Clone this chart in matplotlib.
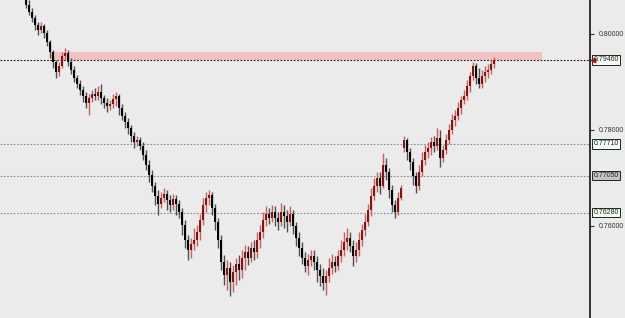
import numpy as np
import matplotlib
matplotlib.use("Agg")
import matplotlib.pyplot as plt
import matplotlib.transforms as mtransforms

# candle data (one bar per period)
opens = [0.8081, 0.8060, 0.8046, 0.8033, 0.8019, 0.8008, 0.8017, 0.8002, 0.7983, 0.7962,
         0.7942, 0.7921, 0.7933, 0.7954, 0.7960, 0.7942, 0.7925, 0.7908, 0.7896, 0.7883,
         0.7871, 0.7856, 0.7867, 0.7875, 0.7871, 0.7879, 0.7867, 0.7856, 0.7850, 0.7854,
         0.7865, 0.7871, 0.7846, 0.7829, 0.7817, 0.7804, 0.7787, 0.7775, 0.7779, 0.7767,
         0.7748, 0.7727, 0.7706, 0.7683, 0.7662, 0.7646, 0.7658, 0.7667, 0.7654, 0.7644,
         0.7656, 0.7646, 0.7629, 0.7602, 0.7571, 0.7550, 0.7562, 0.7571, 0.7587, 0.7612,
         0.7644, 0.7658, 0.7665, 0.7637, 0.7608, 0.7571, 0.7525, 0.7498, 0.7512, 0.7483,
         0.7504, 0.7521, 0.7508, 0.7533, 0.7546, 0.7533, 0.7554, 0.7546, 0.7571, 0.7587,
         0.7612, 0.7625, 0.7617, 0.7629, 0.7617, 0.7608, 0.7629, 0.7621, 0.7608, 0.7625,
         0.7600, 0.7575, 0.7554, 0.7533, 0.7517, 0.7529, 0.7537, 0.7525, 0.7508, 0.7496,
         0.7481, 0.7496, 0.7512, 0.7525, 0.7517, 0.7537, 0.7550, 0.7567, 0.7575, 0.7558,
         0.7537, 0.7550, 0.7571, 0.7592, 0.7608, 0.7633, 0.7662, 0.7683, 0.7700, 0.7683,
         0.7727, 0.7712, 0.7675, 0.7644, 0.7629, 0.7658, 0.7762, 0.7779, 0.7754, 0.7733,
         0.7704, 0.7683, 0.7712, 0.7737, 0.7754, 0.7762, 0.7775, 0.7767, 0.7783, 0.7742,
         0.7758, 0.7779, 0.7800, 0.7821, 0.7829, 0.7846, 0.7862, 0.7871, 0.7892, 0.7912,
         0.7933, 0.7908, 0.7896, 0.7912, 0.7921, 0.7925, 0.7937]
highs = [0.8092, 0.8071, 0.8054, 0.8040, 0.8025, 0.8025, 0.8021, 0.8008, 0.7987, 0.7967,
         0.7946, 0.7942, 0.7962, 0.7971, 0.7967, 0.7950, 0.7933, 0.7915, 0.7904, 0.7892,
         0.7879, 0.7875, 0.7883, 0.7887, 0.7892, 0.7896, 0.7873, 0.7867, 0.7862, 0.7875,
         0.7879, 0.7875, 0.7854, 0.7837, 0.7825, 0.7810, 0.7796, 0.7787, 0.7785, 0.7775,
         0.7758, 0.7737, 0.7717, 0.7692, 0.7675, 0.7671, 0.7679, 0.7675, 0.7665, 0.7667,
         0.7665, 0.7654, 0.7637, 0.7612, 0.7581, 0.7575, 0.7596, 0.7602, 0.7625, 0.7658,
         0.7671, 0.7675, 0.7671, 0.7646, 0.7617, 0.7581, 0.7540, 0.7529, 0.7525, 0.7519,
         0.7533, 0.7540, 0.7550, 0.7560, 0.7558, 0.7567, 0.7571, 0.7587, 0.7602, 0.7629,
         0.7642, 0.7637, 0.7644, 0.7642, 0.7629, 0.7648, 0.7644, 0.7633, 0.7642, 0.7633,
         0.7608, 0.7587, 0.7567, 0.7546, 0.7542, 0.7550, 0.7550, 0.7537, 0.7521, 0.7512,
         0.7508, 0.7533, 0.7542, 0.7537, 0.7550, 0.7571, 0.7587, 0.7596, 0.7587, 0.7571,
         0.7567, 0.7587, 0.7604, 0.7625, 0.7646, 0.7679, 0.7700, 0.7712, 0.7712, 0.7752,
         0.7742, 0.7721, 0.7685, 0.7654, 0.7671, 0.7685, 0.7787, 0.7783, 0.7762, 0.7742,
         0.7712, 0.7727, 0.7754, 0.7769, 0.7775, 0.7785, 0.7787, 0.7804, 0.7800, 0.7769,
         0.7792, 0.7812, 0.7833, 0.7842, 0.7858, 0.7871, 0.7883, 0.7904, 0.7921, 0.7942,
         0.7940, 0.7929, 0.7925, 0.7933, 0.7937, 0.7946, 0.7952]
lows = [0.8054, 0.8040, 0.8025, 0.8008, 0.7998, 0.8002, 0.7992, 0.7975, 0.7950, 0.7929,
        0.7908, 0.7912, 0.7929, 0.7946, 0.7933, 0.7917, 0.7900, 0.7887, 0.7873, 0.7858,
        0.7846, 0.7831, 0.7858, 0.7862, 0.7862, 0.7854, 0.7846, 0.7837, 0.7842, 0.7846,
        0.7850, 0.7831, 0.7821, 0.7804, 0.7792, 0.7775, 0.7762, 0.7767, 0.7758, 0.7737,
        0.7717, 0.7692, 0.7671, 0.7644, 0.7623, 0.7637, 0.7650, 0.7633, 0.7629, 0.7633,
        0.7623, 0.7617, 0.7581, 0.7554, 0.7529, 0.7533, 0.7550, 0.7558, 0.7571, 0.7602,
        0.7629, 0.7644, 0.7623, 0.7592, 0.7554, 0.7508, 0.7477, 0.7467, 0.7454, 0.7462,
        0.7477, 0.7487, 0.7492, 0.7508, 0.7519, 0.7525, 0.7529, 0.7533, 0.7554, 0.7575,
        0.7600, 0.7604, 0.7608, 0.7600, 0.7592, 0.7600, 0.7596, 0.7587, 0.7600, 0.7583,
        0.7558, 0.7537, 0.7521, 0.7504, 0.7498, 0.7517, 0.7508, 0.7483, 0.7475, 0.7467,
        0.7456, 0.7483, 0.7500, 0.7504, 0.7508, 0.7525, 0.7537, 0.7550, 0.7546, 0.7517,
        0.7525, 0.7537, 0.7558, 0.7579, 0.7600, 0.7621, 0.7654, 0.7671, 0.7667, 0.7679,
        0.7696, 0.7658, 0.7629, 0.7617, 0.7623, 0.7654, 0.7754, 0.7737, 0.7717, 0.7685,
        0.7669, 0.7675, 0.7704, 0.7727, 0.7742, 0.7748, 0.7754, 0.7758, 0.7723, 0.7733,
        0.7750, 0.7771, 0.7792, 0.7808, 0.7821, 0.7833, 0.7854, 0.7862, 0.7879, 0.7904,
        0.7896, 0.7887, 0.7887, 0.7900, 0.7908, 0.7917, 0.7929]
closes = [0.8060, 0.8046, 0.8033, 0.8019, 0.8008, 0.8017, 0.8002, 0.7983, 0.7962, 0.7942,
          0.7921, 0.7933, 0.7954, 0.7960, 0.7942, 0.7925, 0.7908, 0.7896, 0.7883, 0.7871,
          0.7856, 0.7867, 0.7875, 0.7871, 0.7879, 0.7867, 0.7856, 0.7850, 0.7854, 0.7865,
          0.7871, 0.7846, 0.7829, 0.7817, 0.7804, 0.7787, 0.7775, 0.7779, 0.7767, 0.7748,
          0.7727, 0.7706, 0.7683, 0.7662, 0.7646, 0.7658, 0.7667, 0.7654, 0.7644, 0.7656,
          0.7646, 0.7629, 0.7602, 0.7571, 0.7550, 0.7562, 0.7571, 0.7587, 0.7612, 0.7644,
          0.7658, 0.7665, 0.7637, 0.7608, 0.7571, 0.7525, 0.7498, 0.7512, 0.7483, 0.7504,
          0.7521, 0.7508, 0.7533, 0.7546, 0.7533, 0.7554, 0.7546, 0.7571, 0.7587, 0.7612,
          0.7625, 0.7617, 0.7629, 0.7617, 0.7608, 0.7629, 0.7621, 0.7608, 0.7625, 0.7600,
          0.7575, 0.7554, 0.7533, 0.7517, 0.7529, 0.7537, 0.7525, 0.7508, 0.7496, 0.7481,
          0.7496, 0.7512, 0.7525, 0.7517, 0.7537, 0.7550, 0.7567, 0.7575, 0.7558, 0.7537,
          0.7550, 0.7571, 0.7592, 0.7608, 0.7633, 0.7662, 0.7683, 0.7700, 0.7683, 0.7727,
          0.7712, 0.7675, 0.7644, 0.7629, 0.7658, 0.7679, 0.7779, 0.7754, 0.7733, 0.7704,
          0.7683, 0.7712, 0.7737, 0.7754, 0.7762, 0.7775, 0.7767, 0.7783, 0.7742, 0.7758,
          0.7779, 0.7800, 0.7821, 0.7829, 0.7846, 0.7862, 0.7871, 0.7892, 0.7912, 0.7933,
          0.7908, 0.7896, 0.7912, 0.7921, 0.7925, 0.7937, 0.7946]

# horizontal levels and their price boxes
levels = [0.7946, 0.7771, 0.7705, 0.7628]
level_labels = ["0.79460", "0.77710", "0.77050", "0.76280"]
axis_ticks = [0.76, 0.78, 0.80]

# resistance zone
zone_low, zone_high = 0.7946, 0.7963
zone_start, zone_end = 8, 172

bg = "#ebebeb"
up_body, up_wick = "#8b1010", "#c86060"
dn_body, dn_wick = "#000000", "#505050"

fig = plt.figure(figsize=(6.25, 3.18), dpi=100, facecolor=bg)
ax = fig.add_axes([0, 0, 590 / 625, 1])
ax.set_facecolor(bg)

o = np.array(opens)
c = np.array(closes)
x = np.arange(len(o))
up = c >= o

# zone behind everything
ax.fill_between([zone_start, zone_end], zone_low, zone_high, color="#f2c2c2", lw=0, zorder=1)

# level lines
ax.axhline(levels[0], color="#111111", lw=0.8, ls=(0, (1.5, 1.5)), zorder=2)
for lv in levels[1:]:
    ax.axhline(lv, color="#8a8a8a", lw=0.8, ls=(0, (1.5, 1.5)), zorder=2)

# candles
ax.vlines(x, lows, highs, colors=np.where(up, up_wick, dn_wick), lw=1.0, zorder=3)
ax.bar(x, c - o, bottom=o, width=0.7, color=np.where(up, up_body, dn_body), lw=0, zorder=4)

ax.set_xlim(-26 / 3, 564 / 3)
ax.set_ylim(0.80708 - 318 / 4800, 0.80708)

# right price axis
for s in ["left", "top", "bottom"]:
    ax.spines[s].set_visible(False)
ax.spines["right"].set_color("#111111")
ax.spines["right"].set_linewidth(1.2)
ax.set_xticks([])
ax.yaxis.tick_right()
ax.set_yticks(axis_ticks)
ax.set_yticklabels([f"{t:.5f}" for t in axis_ticks])
ax.tick_params(axis="y", length=3, width=0.8, color="#333333", pad=3,
               labelsize=5, labelcolor="#333333")
for lab in ax.get_yticklabels():
    lab.set_fontfamily("Liberation Sans")

trans = mtransforms.blended_transform_factory(ax.transAxes, ax.transData)
for lv, txt in zip(levels, level_labels):
    face = "#c4c4c4" if txt == "0.77050" else "#f6fbf4"
    ax.text(1.006, lv, txt, transform=trans, ha="left", va="center",
            fontsize=5, family="Liberation Sans", color="#222222", clip_on=False,
            bbox=dict(boxstyle="square,pad=0.2", fc=face, ec="#1a2a1a", lw=0.7))
ax.plot([1.005], [levels[0]], marker="<", ms=3.2, color="#b01010", transform=trans,
        clip_on=False, zorder=6)

fig.savefig("out.png", dpi=100, facecolor=bg)
